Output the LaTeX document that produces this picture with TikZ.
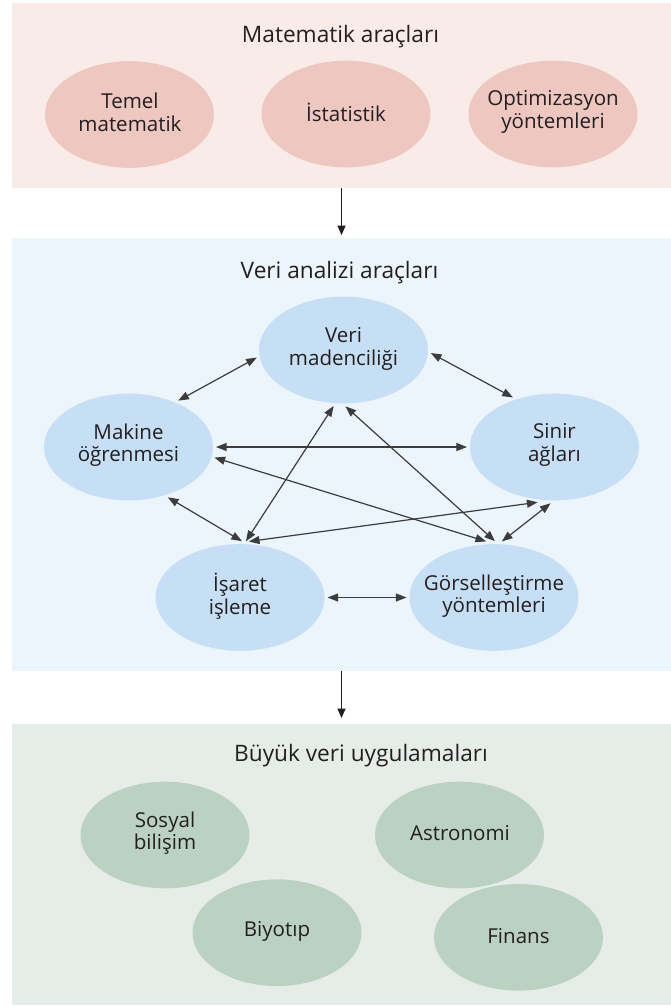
\documentclass[tikz,border=0pt]{standalone}
\usepackage{fontspec}
\setmainfont{Open Sans}
\usetikzlibrary{shapes.geometric,arrows.meta}
\definecolor{pinkbg}{HTML}{F8EBE8}
\definecolor{pinkel}{HTML}{EEC7C1}
\definecolor{bluebg}{HTML}{ECF4FC}
\definecolor{blueel}{HTML}{C7DFF5}
\definecolor{greenbg}{HTML}{E6EDE8}
\definecolor{greenel}{HTML}{BBD2C3}
\definecolor{textc}{HTML}{231F20}
\definecolor{arrowc}{HTML}{3C3C3C}
\newcommand{\bodyfnt}{\fontsize{15.4}{17}\selectfont}
\newcommand{\titlefnt}{\fontsize{17}{20}\selectfont}
\tikzset{
  panel/.style={rectangle, draw=none, minimum width=494.25pt, inner sep=0pt, outer sep=0pt},
  blob/.style={ellipse, draw=none, minimum width=126.75pt, minimum height=80pt, inner sep=0pt, outer sep=2.25pt},
  txt/.style={align=center, font=\bodyfnt, text=textc, inner sep=0pt},
  ttl/.style={font=\titlefnt, text=textc, inner sep=0pt, anchor=base},
  link/.style={draw=arrowc, line width=0.9pt, {Triangle[length=8pt,width=6pt]}-{Triangle[length=8pt,width=6pt]}},
  flow/.style={draw=textc, line width=0.8pt, -{Triangle[length=7pt,width=6pt]}}
}
\begin{document}
\begin{tikzpicture}[x=0.75pt,y=-0.75pt]
\useasboundingbox (0,0) rectangle (671,1007);
% panels
\node[panel, fill=pinkbg, minimum height=138.75pt] (p1) at (341.5,95.5) {};
\node[panel, fill=bluebg, minimum height=325.1pt] (p2) at (341.5,454.75) {};
\node[panel, fill=greenbg, minimum height=210.75pt] (p3) at (341.5,864.5) {};
% titles
\node[ttl] (t1) at (340.5,42) {Matematik araçları};
\node[ttl] (t2) at (339.5,278) {Veri analizi araçları};
\node[ttl] (t3) at (361,761) {Büyük veri uygulamaları};
% top ellipses
\node[blob, fill=pinkel] (m1) at (129.5,114.5) {};
\node[blob, fill=pinkel] (m2) at (346,114) {};
\node[blob, fill=pinkel] (m3) at (553,114) {};
\node[txt] (m1t) at (130,112) {Temel\\matematik};
\node[txt] (m2t) at (346,112) {İstatistik};
\node[txt] (m3t) at (553,112) {Optimizasyon\\yöntemleri};
% middle ellipses
\node[blob, fill=blueel] (V) at (343.5,350) {};
\node[blob, fill=blueel] (M) at (128.5,447) {};
\node[blob, fill=blueel] (S) at (554.5,447) {};
\node[blob, fill=blueel] (I) at (240,597.5) {};
\node[blob, fill=blueel] (G) at (494,597.5) {};
\node[txt] (Vt) at (343.5,349) {Veri\\madenciliği};
\node[txt] (Mt) at (128.5,445) {Makine\\öğrenmesi};
\node[txt] (St) at (554.5,445) {Sinir\\ağları};
\node[txt] (It) at (240,596) {İşaret\\işleme};
\node[txt] (Gt) at (494,596) {Görselleştirme\\yöntemleri};
% bottom ellipses
\node[blob, fill=greenel] (So) at (165,835) {};
\node[blob, fill=greenel] (A) at (459.5,835) {};
\node[blob, fill=greenel] (B) at (277,932.7) {};
\node[blob, fill=greenel] (F) at (518.5,937.3) {};
\node[txt] (Sot) at (165,833) {Sosyal\\bilişim};
\node[txt] (At) at (460,833) {Astronomi};
\node[txt] (Bt) at (277,931) {Biyotıp};
\node[txt] (Ft) at (518.5,936) {Finans};
% flow arrows
\draw[flow, shorten <=0pt, shorten >=2.25pt] (p1.south) -- (p2.north);
\draw[flow, shorten <=0pt, shorten >=4.5pt] (p2.south) -- (p3.north);
% links
\draw[link] (V.185) -- (M.43);
\draw[link] (V.-2) -- (S.130);
\draw[link] (M.0) -- (S.180);
\draw[link] (M.-7) -- (G.98);
\draw[link] (V.-100) -- (I.84);
\draw[link] (V.-88.5) -- (G.89);
\draw[link] (M.-52) -- (I.88);
\draw[link] (S.-107) -- (I.81);
\draw[link] (S.-94.6) -- (G.82.5);
\draw[link] (I.0) -- (G.180);
\end{tikzpicture}
\end{document}
